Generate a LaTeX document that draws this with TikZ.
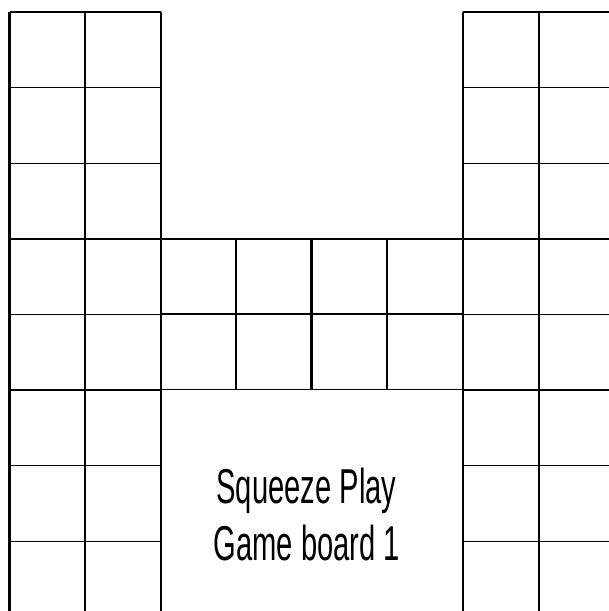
\documentclass[tikz,border=0pt]{standalone}
\usepackage{fontspec}
\newfontfamily\boardfont[FakeStretch=0.595]{Liberation Sans}
\tikzset{
    hline/.style={draw, line width=1.4pt},
    vline/.style={draw, line width=2.2pt},
    title/.style={font=\boardfont\fontsize{49}{57}\selectfont, anchor=base, inner sep=0pt}
}

\begin{document}
\begin{tikzpicture}[x=1pt, y=-1pt]
        \useasboundingbox (0,0) rectangle (609,611);
        \clip (0,0) rectangle (609,611);

        % Left and right columns
        \foreach \x in {9.5, 463} {
            \foreach \k in {0,...,8}
                \path [hline] (\x, 12+75.6*\k) -- ++(151.2, 0);
            \foreach \c in {0,1,2}
                \path [vline] (\x+75.6*\c, 12) -- (\x+75.6*\c, 640);
        }

        % Middle strip
        \foreach \k in {0,1,2}
            \path [hline] (160, 238.8+75.3*\k) -- (463, 238.8+75.3*\k);
        \foreach \c in {1,2,3}
            \path [vline] (160+75.75*\c, 238.8) -- (160+75.75*\c, 389.4);

        % Label
        \node [title] (name) at (306.5, 503) {Squeeze Play};
        \node [title] (board) at (307, 560) {Game board 1};
    \end{tikzpicture}
\end{document}
